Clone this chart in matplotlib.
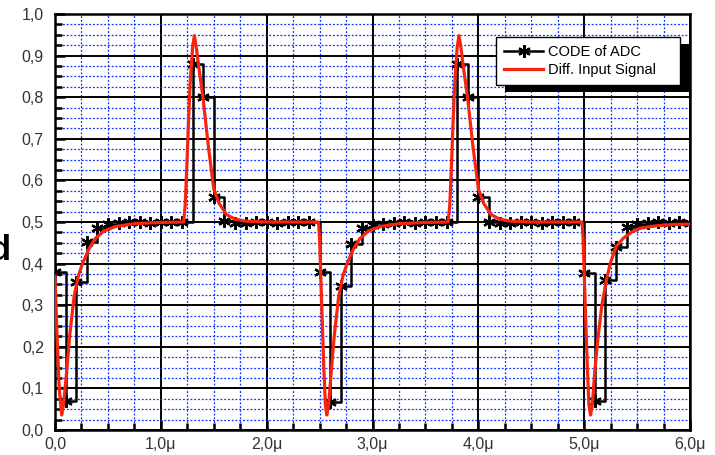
import matplotlib
matplotlib.use("Agg")
import matplotlib.pyplot as plt
from matplotlib.patches import Rectangle
from matplotlib.transforms import IdentityTransform
from matplotlib.ticker import MultipleLocator, FuncFormatter

plt.rcParams['font.family'] = ['Liberation Sans', 'DejaVu Sans']

# ADC output code, sampled every 0.1 us
code_t = [0.0, 0.1, 0.2, 0.3, 0.4, 0.5, 0.6, 0.7, 0.8, 0.9,
          1.0, 1.1, 1.2, 1.3, 1.4, 1.5, 1.6, 1.7, 1.8, 1.9,
          2.0, 2.1, 2.2, 2.3, 2.4, 2.5, 2.6, 2.7, 2.8, 2.9,
          3.0, 3.1, 3.2, 3.3, 3.4, 3.5, 3.6, 3.7, 3.8, 3.9,
          4.0, 4.1, 4.2, 4.3, 4.4, 4.5, 4.6, 4.7, 4.8, 4.9,
          5.0, 5.1, 5.2, 5.3, 5.4, 5.5, 5.6, 5.7, 5.8, 5.9, 6.0]
code_v = [0.38, 0.07, 0.355, 0.452, 0.485, 0.495, 0.497, 0.50, 0.50, 0.498,
          0.50, 0.50, 0.50, 0.88, 0.80, 0.56, 0.503, 0.497, 0.497, 0.50,
          0.50, 0.497, 0.50, 0.50, 0.50, 0.38, 0.068, 0.346, 0.446, 0.485,
          0.492, 0.495, 0.497, 0.50, 0.498, 0.50, 0.50, 0.50, 0.88, 0.80,
          0.56, 0.50, 0.497, 0.497, 0.50, 0.50, 0.497, 0.50, 0.50, 0.50,
          0.378, 0.07, 0.36, 0.44, 0.487, 0.495, 0.497, 0.50, 0.497, 0.50, 0.498]

# differential input signal
sig_t = [0.0, 0.02, 0.04, 0.063, 0.08, 0.11, 0.14, 0.18, 0.22, 0.26,
         0.32, 0.38, 0.46, 0.57, 0.75, 1.0, 1.215, 1.23, 1.245, 1.26,
         1.276, 1.30, 1.317, 1.335, 1.36, 1.40, 1.45, 1.50, 1.55, 1.62,
         1.70, 1.80, 2.0, 2.3, 2.49, 2.50, 2.52, 2.54, 2.555, 2.568,
         2.585, 2.61, 2.64, 2.68, 2.72, 2.76, 2.82, 2.88, 2.96, 3.07,
         3.25, 3.5, 3.715, 3.73, 3.745, 3.76, 3.776, 3.80, 3.817, 3.835,
         3.86, 3.90, 3.95, 4.00, 4.05, 4.12, 4.20, 4.30, 4.5, 4.8,
         4.98, 4.99, 5.01, 5.03, 5.045, 5.06, 5.077, 5.10, 5.13, 5.167,
         5.21, 5.246, 5.30, 5.37, 5.45, 5.53, 5.65, 5.84, 6.0]
sig_v = [0.37, 0.22, 0.10, 0.036, 0.06, 0.14, 0.23, 0.32, 0.37, 0.40,
         0.435, 0.46, 0.478, 0.489, 0.496, 0.499, 0.50, 0.54, 0.63, 0.73,
         0.83, 0.92, 0.948, 0.92, 0.87, 0.795, 0.68, 0.58, 0.545, 0.518,
         0.507, 0.502, 0.50, 0.50, 0.50, 0.46, 0.30, 0.15, 0.06, 0.036,
         0.06, 0.14, 0.23, 0.32, 0.37, 0.40, 0.435, 0.46, 0.478, 0.489,
         0.496, 0.499, 0.50, 0.54, 0.63, 0.73, 0.83, 0.92, 0.948, 0.92,
         0.87, 0.795, 0.68, 0.58, 0.545, 0.518, 0.507, 0.502, 0.50, 0.50,
         0.50, 0.46, 0.30, 0.15, 0.06, 0.036, 0.06, 0.14, 0.22, 0.30,
         0.36, 0.40, 0.44, 0.461, 0.476, 0.485, 0.490, 0.494, 0.495]

fig = plt.figure(figsize=(7.15, 4.55), dpi=100)
ax = fig.add_axes([55 / 715, 1 - 430 / 455, 635 / 715, 416 / 455])

ax.plot(code_t, code_v, color='black', lw=1.8, drawstyle='steps-post',
        marker=(6, 2, 0), ms=9, mew=1.6, label='CODE of ADC', zorder=3)
ax.plot(sig_t, sig_v, color='#f52510', lw=2.3, label='Diff. Input Signal', zorder=4)

ax.set_xlim(0, 6)
ax.set_ylim(0, 1.0)

ax.xaxis.set_major_locator(MultipleLocator(1.0))
ax.xaxis.set_minor_locator(MultipleLocator(0.25))
ax.yaxis.set_major_locator(MultipleLocator(0.1))
ax.yaxis.set_minor_locator(MultipleLocator(0.025))

ax.xaxis.set_major_formatter(FuncFormatter(
    lambda v, p: '0,0' if abs(v) < 1e-9 else ('%.1f' % v).replace('.', ',') + 'μ'))
ax.yaxis.set_major_formatter(FuncFormatter(lambda v, p: ('%.1f' % v).replace('.', ',')))

ax.grid(which='minor', color='#1030ff', ls=(0, (1.5, 1.5)), lw=0.9)
ax.grid(which='major', color='black', ls='-', lw=1.4)
ax.set_axisbelow(True)

ax.tick_params(which='major', direction='in', length=7, width=1.8,
               labelsize=11.5, labelcolor='#333333', pad=5)
ax.tick_params(axis='y', which='major', pad=8)
ax.tick_params(which='minor', direction='in', length=5, width=1.8)
for s in ax.spines.values():
    s.set_linewidth(1.8)

# legend box spans x 496..680 px, top at 37 px
leg = ax.legend(loc='upper left', mode='expand',
                bbox_to_anchor=(441 / 635, 0.0, 184 / 635, 393 / 416),
                fontsize=10.5, handlelength=2.7, handletextpad=0.35, numpoints=1,
                fancybox=False, framealpha=1, edgecolor='black', borderpad=0.55,
                labelspacing=0.25, borderaxespad=0)
leg.get_frame().set_linewidth(1.0)
leg.set_zorder(6)

fig.text(11 / 715, 1 - 260 / 455, 'd', ha='right', va='baseline',
         fontsize=25, fontweight='bold')

fig.canvas.draw()
bb = leg.get_window_extent()
shadow = Rectangle((bb.x0 + 9, bb.y0 - 7), bb.width, bb.height,
                   transform=IdentityTransform(), facecolor='black',
                   edgecolor='none', zorder=5.5, clip_on=False)
ax.add_patch(shadow)

fig.savefig('out.png', dpi=100)
